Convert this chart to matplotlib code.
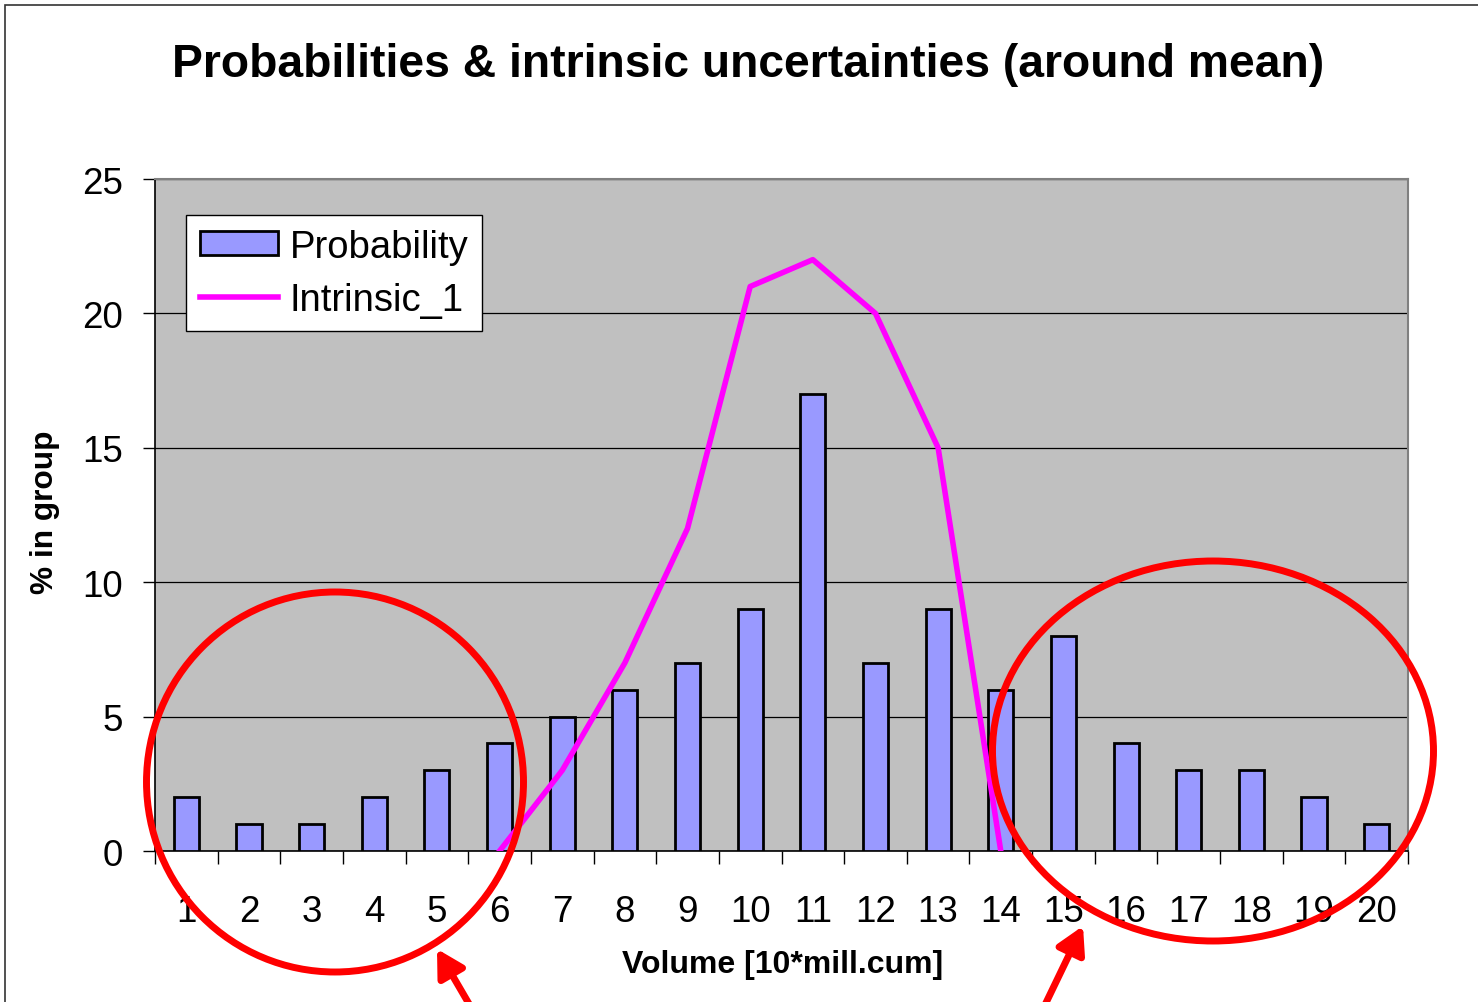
import numpy as np
import matplotlib
matplotlib.use("Agg")
import matplotlib.pyplot as plt
from matplotlib.patches import Ellipse, Rectangle, FancyArrowPatch

plt.rcParams['font.family'] = ['Liberation Sans', 'DejaVu Sans']

categories = list(range(1, 21))
probability = [2, 1, 1, 2, 3, 4, 5, 6, 7, 9, 17, 7, 9, 6, 8, 4, 3, 3, 2, 1]
intrinsic_1 = [np.nan] * 5 + [0, 3, 7, 12, 21, 22, 20, 15, 0] + [np.nan] * 6

W, H = 1478, 1003
fig = plt.figure(figsize=(W / 100, H / 100), dpi=100)

def fx(px):
    return px / W

def fy(py):
    return 1 - py / H

ax = fig.add_axes([fx(155), fy(852), fx(1408) - fx(155), fy(180) - fy(852)])
ax.set_facecolor('#C0C0C0')

x = np.array(categories)
bars = ax.bar(x, probability, width=0.4, color='#9999FF', edgecolor='black',
              linewidth=2.0, label='Probability', zorder=3)
line, = ax.plot(x, intrinsic_1, color='#FF00FF', linewidth=4.0,
                label='Intrinsic_1', zorder=4)

ax.set_xlim(0.5, 20.5)
ax.set_ylim(0, 25)
ax.set_yticks([0, 5, 10, 15, 20, 25])
ax.yaxis.grid(True, color='black', linewidth=0.9, zorder=1)
ax.set_axisbelow(True)

ax.set_xticks(np.arange(0.5, 21, 1))
ax.set_xticklabels([])
ax.set_xticks(x, minor=True)
ax.set_xticklabels([str(c) for c in categories], minor=True)
ax.tick_params(axis='x', which='major', length=9, width=1, direction='out')
ax.tick_params(axis='x', which='minor', length=0, pad=31, labelsize=26.5)
ax.tick_params(axis='y', length=9, width=1, direction='out', pad=14, labelsize=26.5)

for s in ['top', 'right']:
    ax.spines[s].set_color('#808080')
    ax.spines[s].set_linewidth(1.5)
for s in ['left', 'bottom']:
    ax.spines[s].set_color('black')
    ax.spines[s].set_linewidth(1.2)

leg = ax.legend([bars, line], ['Probability', 'Intrinsic_1'],
                loc='upper left', bbox_to_anchor=(0.025, 0.946), fontsize=27.5,
                frameon=True, fancybox=False, edgecolor='black', framealpha=1,
                handlelength=2.05, handleheight=0.6, handletextpad=0.3,
                borderpad=0.35, labelspacing=0.45, borderaxespad=0)
leg.get_frame().set_linewidth(1.0)

fig.text(fx(748), fy(65), 'Probabilities & intrinsic uncertainties (around mean)',
         ha='center', va='center', fontsize=33.3, fontweight='bold')
fig.text(fx(783), fy(965), 'Volume [10*mill.cum]', ha='center', va='center',
         fontsize=23, fontweight='bold')
fig.text(fx(45), fy(512), '% in group', ha='center', va='center',
         fontsize=22.8, fontweight='bold', rotation=90)

# figure border (cropped on right and bottom)
fig.patches.append(Rectangle((fx(5), fy(1100)), fx(2000), fy(6) - fy(1100),
                             transform=fig.transFigure, fill=False,
                             edgecolor='#333333', linewidth=1.2))

# red annotation circles
fig.patches.append(Ellipse((fx(335), fy(783)), fx(377), 380 / H,
                           transform=fig.transFigure, fill=False,
                           edgecolor='#FF0000', linewidth=5, zorder=10))
fig.patches.append(Ellipse((fx(1213), fy(752)), fx(441), 380 / H,
                           transform=fig.transFigure, fill=False,
                           edgecolor='#FF0000', linewidth=5, zorder=10))

# red arrows
for start, end in [((472, 1010), (437, 950)), ((1043, 1010), (1083, 927))]:
    fig.patches.append(FancyArrowPatch((fx(start[0]), fy(start[1])),
                                       (fx(end[0]), fy(end[1])),
                                       transform=fig.transFigure,
                                       arrowstyle='-|>,head_length=16,head_width=9',
                                       color='#FF0000', linewidth=5,
                                       shrinkA=0, shrinkB=0, zorder=10))

fig.savefig('out.png', dpi=100)
